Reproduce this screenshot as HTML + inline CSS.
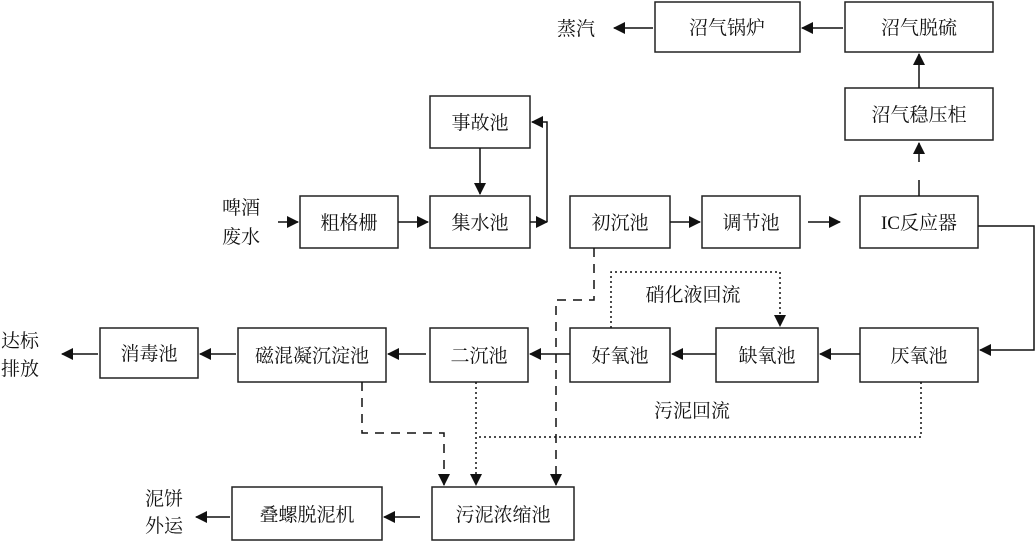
<!DOCTYPE html>
<html><head><meta charset="utf-8"><style>
html,body{margin:0;padding:0;background:#fff;}
svg{display:block;}
text{font-family:"Liberation Serif","Noto Serif CJK SC","Noto Sans CJK SC",serif;font-size:19px;fill:#111;}
</style></head><body>
<svg width="1036" height="544" viewBox="0 0 1036 544" xmlns="http://www.w3.org/2000/svg">
<defs>
<marker id="a" markerWidth="12" markerHeight="12" refX="11" refY="6" orient="auto" markerUnits="userSpaceOnUse">
<path d="M0,0 L12,6 L0,12 z" fill="#111"/></marker>
</defs>
<g fill="#fff" stroke="#222" stroke-width="1.5">
<rect x="655" y="2" width="145" height="50"/>
<rect x="845" y="2" width="148" height="50"/>
<rect x="845" y="88" width="148" height="52"/>
<rect x="430" y="96" width="100" height="52"/>
<rect x="430" y="196" width="100" height="52"/>
<rect x="300" y="196" width="98" height="52"/>
<rect x="570" y="196" width="100" height="52"/>
<rect x="702" y="196" width="98" height="52"/>
<rect x="860" y="196" width="118" height="52"/>
<rect x="860" y="328" width="118" height="54"/>
<rect x="716" y="328" width="102" height="54"/>
<rect x="570" y="328" width="100" height="54"/>
<rect x="430" y="328" width="98" height="54"/>
<rect x="238" y="328" width="148" height="54"/>
<rect x="100" y="328" width="98" height="50"/>
<rect x="432" y="487" width="142" height="53"/>
<rect x="232" y="487" width="150" height="53"/>
</g>
<g text-anchor="middle">
<text x="727" y="34">沼气锅炉</text>
<text x="919" y="34">沼气脱硫</text>
<text x="919" y="121">沼气稳压柜</text>
<text x="480" y="129">事故池</text>
<text x="480" y="229">集水池</text>
<text x="349" y="229">粗格栅</text>
<text x="620" y="229">初沉池</text>
<text x="751" y="229">调节池</text>
<text x="919" y="229">IC反应器</text>
<text x="919" y="362">厌氧池</text>
<text x="767" y="362">缺氧池</text>
<text x="620" y="362">好氧池</text>
<text x="479" y="362">二沉池</text>
<text x="312" y="362">磁混凝沉淀池</text>
<text x="149" y="360">消毒池</text>
<text x="503" y="521">污泥浓缩池</text>
<text x="307" y="521">叠螺脱泥机</text>
<text x="576" y="35">蒸汽</text>
<text x="241" y="214">啤酒</text>
<text x="241" y="243">废水</text>
<text x="20" y="347">达标</text>
<text x="20" y="375">排放</text>
<text x="164" y="505">泥饼</text>
<text x="164" y="532">外运</text>
<text x="693" y="301">硝化液回流</text>
<text x="692" y="417">污泥回流</text>
</g>
<g stroke="#111" stroke-width="1.5" fill="none">
<line x1="653" y1="28" x2="614" y2="28" marker-end="url(#a)"/>
<line x1="843" y1="28" x2="802" y2="28" marker-end="url(#a)"/>
<line x1="919" y1="88" x2="919" y2="54" marker-end="url(#a)"/>
<line x1="919" y1="196" x2="919" y2="180"/>
<line x1="919" y1="162" x2="919" y2="143" marker-end="url(#a)"/>
<line x1="480" y1="148" x2="480" y2="194" marker-end="url(#a)"/>
<line x1="278" y1="222" x2="298" y2="222" marker-end="url(#a)"/>
<line x1="398" y1="222" x2="428" y2="222" marker-end="url(#a)"/>
<polyline points="547,222 547,122 532,122" marker-end="url(#a)"/>
<line x1="530" y1="222" x2="547" y2="222" marker-end="url(#a)"/>
<line x1="670" y1="222" x2="700" y2="222" marker-end="url(#a)"/>
<line x1="808" y1="222" x2="840" y2="222" marker-end="url(#a)"/>
<polyline points="978,226 1034,226 1034,350 980,350" marker-end="url(#a)"/>
<line x1="860" y1="354" x2="820" y2="354" marker-end="url(#a)"/>
<line x1="716" y1="354" x2="672" y2="354" marker-end="url(#a)"/>
<line x1="570" y1="354" x2="530" y2="354" marker-end="url(#a)"/>
<line x1="426" y1="354" x2="388" y2="354" marker-end="url(#a)"/>
<line x1="236" y1="354" x2="200" y2="354" marker-end="url(#a)"/>
<line x1="98" y1="354" x2="62" y2="354" marker-end="url(#a)"/>
<line x1="420" y1="517" x2="384" y2="517" marker-end="url(#a)"/>
<line x1="230" y1="517" x2="196" y2="517" marker-end="url(#a)"/>
</g>
<g stroke="#111" stroke-width="1.5" fill="none" stroke-dasharray="9,7">
<polyline points="594,248 594,300 556,300 556,485" marker-end="url(#a)"/>
<polyline points="362,382 362,433 444,433 444,485" marker-end="url(#a)"/>
</g>
<g stroke="#111" stroke-width="1.5" fill="none" stroke-dasharray="2,3">
<polyline points="611,328 611,272 780,272 780,326" marker-end="url(#a)"/>
<polyline points="476,382 476,485" marker-end="url(#a)"/>
<polyline points="921,382 921,437 476,437"/>
</g>
</svg>
</body></html>
